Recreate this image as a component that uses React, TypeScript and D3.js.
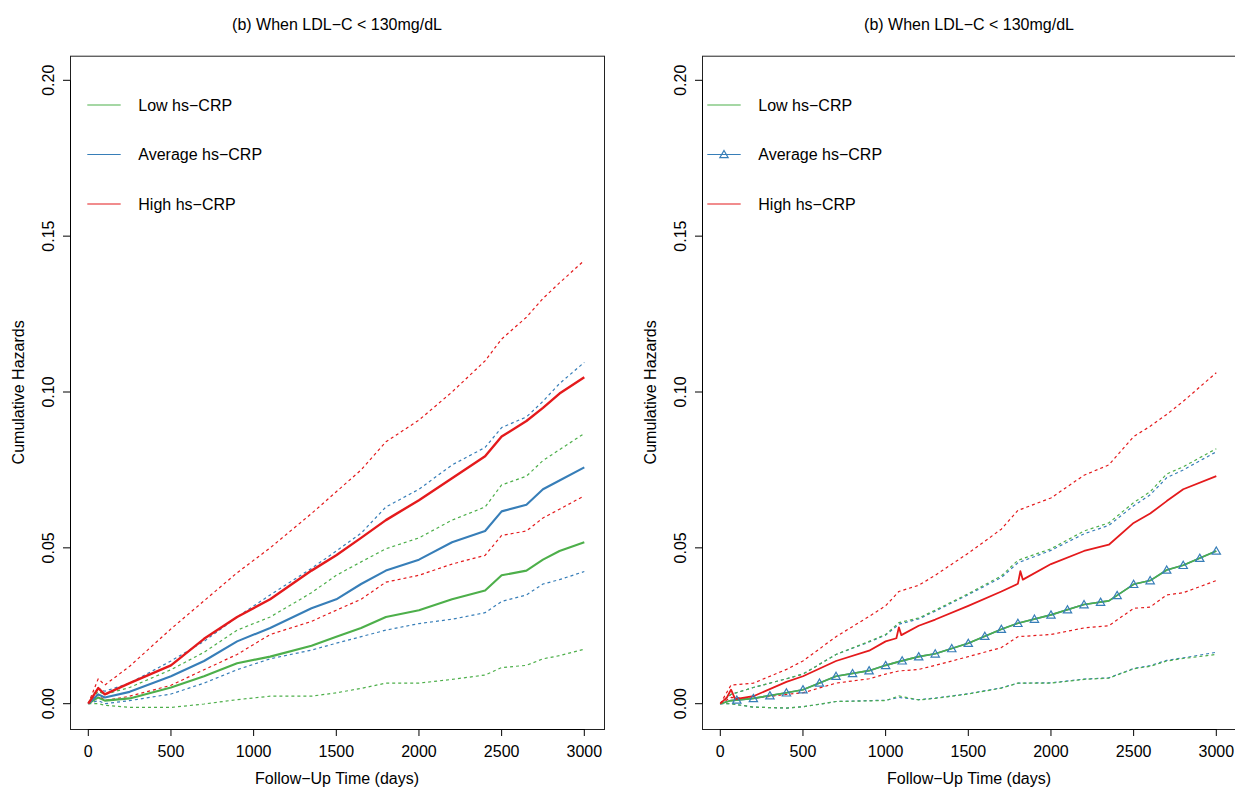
import React from "react";
import * as d3 from "d3";

// ---------- data ----------
const TITLE = "(b) When LDL\u2212C < 130mg/dL";
const X_LABEL = "Follow\u2212Up Time (days)";
const Y_LABEL = "Cumulative Hazards";
const LEGEND_LABELS = ["Low hs\u2212CRP", "Average hs\u2212CRP", "High hs\u2212CRP"];
const X_TICKS = [0, 500, 1000, 1500, 2000, 2500, 3000];
const Y_TICKS = [0, 0.05, 0.1, 0.15, 0.2];
const MARKER_DAYS = d3.range(100, 3001, 100);

// left panel
const daysL = [0, 60, 100, 250, 500, 700, 900, 1100, 1350, 1500, 1650, 1800, 2000, 2200, 2400, 2500, 2650, 2750, 2850, 3000];
const lowL = [0, 0.002, 0.001, 0.0017, 0.0052, 0.0088, 0.013, 0.0151, 0.0186, 0.0215, 0.0243, 0.0278, 0.03, 0.0335, 0.0363, 0.0412, 0.0427, 0.0462, 0.049, 0.0518];
const lowUpL = [0, 0.004, 0.003, 0.0052, 0.0109, 0.0165, 0.0236, 0.0278, 0.0356, 0.0412, 0.0455, 0.0497, 0.0532, 0.0589, 0.0631, 0.0702, 0.073, 0.078, 0.0815, 0.0867];
const lowLoL = [0, 0.0, -0.0005, -0.0012, -0.0012, -0.0001, 0.0013, 0.0024, 0.0024, 0.0035, 0.0049, 0.0066, 0.0066, 0.0078, 0.0092, 0.0116, 0.0123, 0.0144, 0.0154, 0.0175];
const avgL = [0, 0.003, 0.002, 0.0038, 0.0088, 0.0137, 0.02, 0.0243, 0.0306, 0.0335, 0.0384, 0.0427, 0.0462, 0.0518, 0.0554, 0.0617, 0.0638, 0.0688, 0.0716, 0.0758];
const avgUpL = [0, 0.005, 0.004, 0.0066, 0.0137, 0.02, 0.0278, 0.0349, 0.0434, 0.049, 0.0547, 0.0631, 0.0688, 0.0766, 0.0822, 0.0886, 0.092, 0.097, 0.1027, 0.1095];
const avgLoL = [0, 0.001, 0.0, 0.001, 0.0031, 0.0066, 0.0109, 0.0144, 0.0172, 0.0194, 0.0215, 0.0236, 0.0257, 0.0271, 0.0292, 0.0328, 0.0349, 0.0384, 0.0398, 0.0424];
const highL = [0, 0.005, 0.003, 0.0066, 0.0123, 0.0208, 0.0278, 0.0335, 0.0427, 0.0476, 0.0532, 0.0589, 0.0653, 0.0723, 0.0794, 0.0857, 0.0907, 0.0949, 0.0995, 0.1047];
const highUpL = [0, 0.008, 0.006, 0.012, 0.024, 0.033, 0.042, 0.05, 0.061, 0.068, 0.075, 0.084, 0.091, 0.1, 0.11, 0.117, 0.124, 0.13, 0.135, 0.1422];
const highLoL = [0, 0.003, 0.001, 0.0024, 0.0059, 0.0109, 0.0158, 0.0222, 0.0264, 0.03, 0.0335, 0.039, 0.0412, 0.0448, 0.0476, 0.054, 0.0554, 0.0596, 0.0624, 0.0667];

// right panel
const daysR = [0, 65, 200, 400, 500, 700, 900, 1000, 1080, 1200, 1300, 1500, 1700, 1800, 2000, 2200, 2350, 2500, 2600, 2700, 2800, 3000];
const lowR = [0, 0.001, 0.0017, 0.0035, 0.0045, 0.0088, 0.0106, 0.0123, 0.0135, 0.0151, 0.016, 0.0194, 0.0239, 0.0258, 0.0285, 0.0318, 0.033, 0.0383, 0.0395, 0.0429, 0.0444, 0.049];
const lowUpR = [0, 0.003, 0.0052, 0.008, 0.0095, 0.0158, 0.02, 0.0222, 0.026, 0.0275, 0.03, 0.0353, 0.041, 0.046, 0.0497, 0.0554, 0.058, 0.0645, 0.068, 0.0737, 0.076, 0.0818];
const lowLoR = [0, 0.0, -0.0011, -0.0014, -0.001, 0.0007, 0.0009, 0.001, 0.0025, 0.0012, 0.0017, 0.0031, 0.005, 0.0066, 0.0066, 0.0078, 0.0082, 0.0112, 0.012, 0.0137, 0.0145, 0.0158];
const avgR = [0, 0.001, 0.0017, 0.0035, 0.0045, 0.0088, 0.0106, 0.0123, 0.0135, 0.0151, 0.016, 0.0194, 0.0239, 0.0258, 0.0285, 0.0318, 0.033, 0.0383, 0.0395, 0.0429, 0.0444, 0.049];
const avgUpR = [0, 0.003, 0.0052, 0.008, 0.0095, 0.0158, 0.0198, 0.022, 0.0255, 0.0272, 0.0297, 0.035, 0.0405, 0.0452, 0.0492, 0.0545, 0.0572, 0.0635, 0.067, 0.0725, 0.075, 0.0808];
const avgLoR = [0, 0.0, -0.0011, -0.0014, -0.001, 0.0007, 0.001, 0.0011, 0.002, 0.0013, 0.0018, 0.0032, 0.0051, 0.0066, 0.0067, 0.0079, 0.0083, 0.0113, 0.0122, 0.0139, 0.0147, 0.0165];
const highDaysR = [0, 40, 65, 90, 200, 400, 500, 700, 900, 1000, 1065, 1080, 1095, 1200, 1300, 1500, 1700, 1800, 1815, 1830, 2000, 2200, 2350, 2500, 2600, 2700, 2800, 3000];
const highR = [0, 0.002, 0.0045, 0.0015, 0.0024, 0.007, 0.0088, 0.0137, 0.017, 0.02, 0.021, 0.0245, 0.022, 0.025, 0.027, 0.0314, 0.036, 0.0385, 0.0425, 0.0398, 0.0448, 0.049, 0.051, 0.058, 0.061, 0.065, 0.0688, 0.073];
const highUpR = [0, 0.006, 0.0066, 0.011, 0.0137, 0.0215, 0.028, 0.0314, 0.036, 0.038, 0.0412, 0.0483, 0.056, 0.062, 0.066, 0.0733, 0.0766, 0.0857, 0.089, 0.0928, 0.097, 0.1062];
const highLoR = [0, 0.002, 0.0017, 0.003, 0.0035, 0.0066, 0.008, 0.0095, 0.0105, 0.011, 0.0123, 0.0151, 0.018, 0.0215, 0.0222, 0.0243, 0.025, 0.0306, 0.031, 0.0349, 0.0356, 0.0395];

const GREEN = "#4DAF4A";
const BLUE = "#377EB8";
const RED = "#E41A1C";
const FONT = "'Liberation Sans', Arial, Helvetica, sans-serif";

type Series = { days: number[]; vals: number[]; color: string; dashed: boolean; width: number; markers?: boolean };

function Panel({ left, series, legendMarker }: { left: number; series: Series[]; legendMarker: boolean }) {
  const boxL = left;
  const boxR = left + 534;
  const boxT = 55.7;
  const boxB = 729;
  const x = d3.scaleLinear().domain([0, 3000]).range([boxL + 18.3, boxR - 19.7]);
  const y = d3.scaleLinear().domain([0, 0.2]).range([703.7, 80.3]);
  const cx = (boxL + boxR) / 2;
  const cy = (boxT + boxB) / 2;
  const tri = d3.symbol().type(d3.symbolTriangle).size(30);
  return (
    <g>
      <defs>
        <clipPath id={`clip${left}`}>
          <rect x={boxL} y={boxT} width={boxR - boxL} height={boxB - boxT} />
        </clipPath>
      </defs>
      <text x={cx} y={30} textAnchor="middle" fontSize={16} fontFamily={FONT}>{TITLE}</text>
      <g clipPath={`url(#clip${left})`}>
        {series.map((s, i) => {
          const pts = s.days.map((d, k) => [d, s.vals[k]] as [number, number]);
          const line = d3.line<[number, number]>().x((p) => x(p[0])).y((p) => y(p[1]));
          return (
            <path key={i} d={line(pts) || ""} fill="none" stroke={s.color} strokeWidth={s.width}
              strokeDasharray={s.dashed ? "3,3" : undefined} strokeLinejoin="round" />
          );
        })}
        {series.filter((s) => s.markers).map((s, i) =>
          MARKER_DAYS.map((d) => {
            const v = d3.scaleLinear().domain(s.days).range(s.vals)(d);
            return (
              <path key={`m${i}-${d}`} d={tri() || ""} transform={`translate(${x(d)},${y(v) + 0.8})`}
                fill="none" stroke={s.color} strokeWidth={1.2} />
            );
          })
        )}
      </g>
      <rect x={boxL + 0.5} y={boxT + 0.5} width={boxR - boxL} height={boxB - boxT} fill="none" stroke="#222" strokeWidth={1} />
      {/* x axis */}
      <line x1={x(0)} x2={x(3000)} y1={boxB + 0.5} y2={boxB + 0.5} stroke="#000" />
      {X_TICKS.map((t) => (
        <g key={t}>
          <line x1={x(t)} x2={x(t)} y1={boxB} y2={boxB + 7} stroke="#000" />
          <text x={x(t)} y={757} textAnchor="middle" fontSize={16} fontFamily={FONT}>{t}</text>
        </g>
      ))}
      {/* y axis */}
      <line x1={boxL + 0.5} x2={boxL + 0.5} y1={y(0)} y2={y(0.2)} stroke="#000" />
      {Y_TICKS.map((t) => (
        <g key={t}>
          <line x1={boxL - 7} x2={boxL} y1={y(t)} y2={y(t)} stroke="#000" />
          <text transform={`translate(${boxL - 16.5},${y(t)}) rotate(-90)`} textAnchor="middle" fontSize={16} fontFamily={FONT}>
            {d3.format(".2f")(t)}
          </text>
        </g>
      ))}
      <text x={cx} y={784} textAnchor="middle" fontSize={16} fontFamily={FONT}>{X_LABEL}</text>
      <text transform={`translate(${boxL - 46.5},${cy}) rotate(-90)`} textAnchor="middle" fontSize={16} fontFamily={FONT}>{Y_LABEL}</text>
      {/* legend */}
      {LEGEND_LABELS.map((lab, i) => {
        const ly = 105 + i * 49.5;
        const lx0 = boxL + (legendMarker ? 5.3 : 17.3);
        const col = [GREEN, BLUE, RED][i];
        return (
          <g key={lab}>
            <line x1={lx0} x2={lx0 + 33.4} y1={ly} y2={ly} stroke={col} strokeWidth={1.2} />
            {legendMarker && i === 1 && (
              <path d={tri() || ""} transform={`translate(${lx0 + 16.7},${ly + 0.8})`} fill="none" stroke={col} strokeWidth={1.2} />
            )}
            <text x={lx0 + 51} y={ly + 5.5} fontSize={16} fontFamily={FONT}>{lab}</text>
          </g>
        );
      })}
    </g>
  );
}

const leftSeries: Series[] = [
  { days: daysL, vals: lowUpL, color: GREEN, dashed: true, width: 1.2 },
  { days: daysL, vals: lowLoL, color: GREEN, dashed: true, width: 1.2 },
  { days: daysL, vals: avgUpL, color: BLUE, dashed: true, width: 1.2 },
  { days: daysL, vals: avgLoL, color: BLUE, dashed: true, width: 1.2 },
  { days: daysL, vals: highUpL, color: RED, dashed: true, width: 1.2 },
  { days: daysL, vals: highLoL, color: RED, dashed: true, width: 1.2 },
  { days: daysL, vals: lowL, color: GREEN, dashed: false, width: 2.1 },
  { days: daysL, vals: avgL, color: BLUE, dashed: false, width: 2.1 },
  { days: daysL, vals: highL, color: RED, dashed: false, width: 2.4 },
];

const rightSeries: Series[] = [
  { days: daysR, vals: avgUpR, color: BLUE, dashed: true, width: 1.2 },
  { days: daysR, vals: avgLoR, color: BLUE, dashed: true, width: 1.2 },
  { days: daysR, vals: lowUpR, color: GREEN, dashed: true, width: 1.2 },
  { days: daysR, vals: lowLoR, color: GREEN, dashed: true, width: 1.2 },
  { days: daysR, vals: highUpR, color: RED, dashed: true, width: 1.2 },
  { days: daysR, vals: highLoR, color: RED, dashed: true, width: 1.2 },
  { days: daysR, vals: avgR, color: BLUE, dashed: false, width: 1.6, markers: true },
  { days: daysR, vals: lowR, color: GREEN, dashed: false, width: 1.6 },
  { days: highDaysR, vals: highR, color: RED, dashed: false, width: 1.8 },
];

export default function App() {
  return (
    <svg width={1235} height={789} style={{ position: "absolute", left: 0, top: 0, background: "#fff" }}>
      <rect width={1235} height={789} fill="#fff" />
      <Panel left={70} series={leftSeries} legendMarker={false} />
      <Panel left={702} series={rightSeries} legendMarker={true} />
    </svg>
  );
}
